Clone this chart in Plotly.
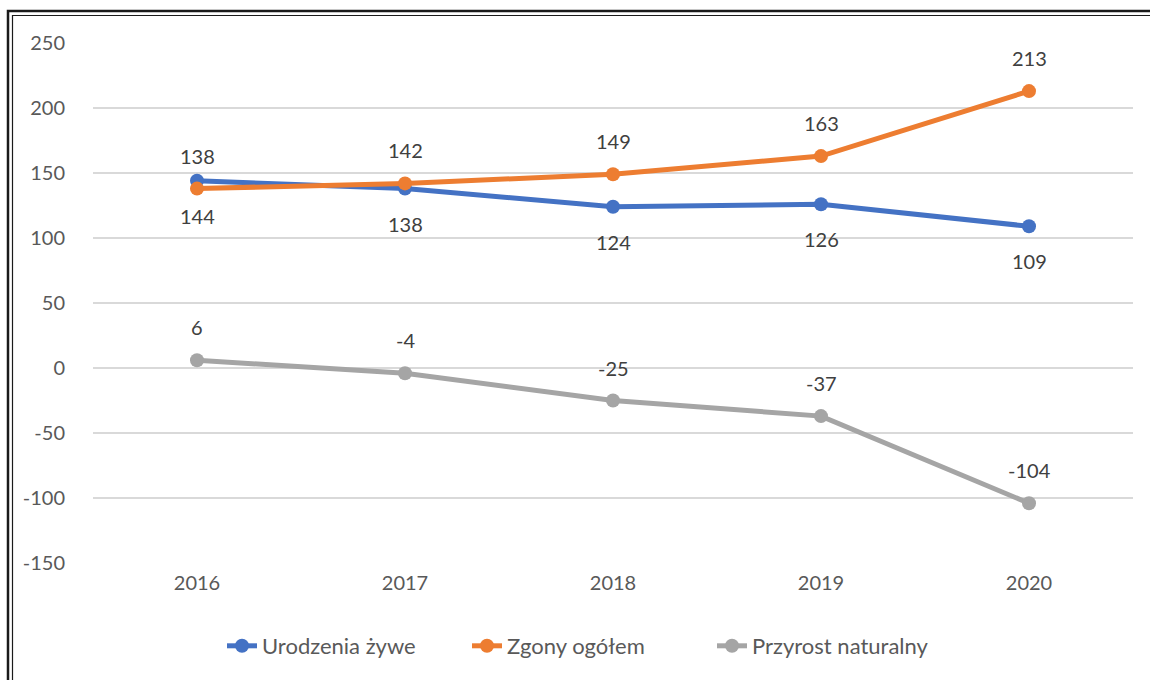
import plotly.graph_objects as go

years = ["2016", "2017", "2018", "2019", "2020"]
urodzenia = [144, 138, 124, 126, 109]
zgony = [138, 142, 149, 163, 213]
przyrost = [6, -4, -25, -37, -104]
series_names = ["Urodzenia żywe", "Zgony ogółem", "Przyrost naturalny"]
colors = ["#4472C4", "#ED7D31", "#A5A5A5"]
label_shift = [-35, 33, 33]
y_ticks = [-150, -100, -50, 0, 50, 100, 150, 200, 250]
y_tick_text = ["-150", "-100", "-50", "0", "50", "100", "150", "200", "250"]

W, H = 1150, 680
L, R, T, B = 93, 17, 43, 117
pw, ph = W - L - R, H - T - B
FONT = "Lato, Carlito, sans-serif"

fig = go.Figure()
xs = list(range(len(years)))
for name, vals, col in zip(series_names, [urodzenia, zgony, przyrost], colors):
    fig.add_trace(go.Scatter(
        x=xs, y=vals, name=name, mode="lines+markers",
        line=dict(color=col, width=5),
        marker=dict(color=col, size=14),
    ))

annotations = []
for vals, sh in zip([urodzenia, zgony, przyrost], label_shift):
    for xi, v in zip(xs, vals):
        annotations.append(dict(
            x=xi, y=v, xref="x", yref="y", text=str(v), showarrow=False,
            yshift=sh, font=dict(family=FONT, size=20, color="#404040"),
        ))

def px2paper_x(p):
    return (p - L) / pw

def px2paper_y(p):
    return (H - B - p) / ph

shapes = [
    dict(type="rect", xref="paper", yref="paper",
         x0=px2paper_x(8), x1=px2paper_x(1165), y0=px2paper_y(11), y1=px2paper_y(700),
         line=dict(color="#1a1a1a", width=2.5), layer="above"),
    dict(type="rect", xref="paper", yref="paper",
         x0=px2paper_x(12.5), x1=px2paper_x(1165), y0=px2paper_y(15.5), y1=px2paper_y(700),
         line=dict(color="#1a1a1a", width=1.2), layer="above"),
]

fig.update_layout(
    width=W, height=H,
    margin=dict(l=L, r=R, t=T, b=B, autoexpand=False),
    paper_bgcolor="white", plot_bgcolor="white",
    font=dict(family=FONT, size=20, color="#595959"),
    xaxis=dict(range=[-0.5, len(years) - 0.5], tickvals=xs, ticktext=years,
               showgrid=False, zeroline=False, showline=False, ticks="",
               ticklabelstandoff=6,
               tickfont=dict(family=FONT, size=20, color="#595959"), fixedrange=True),
    yaxis=dict(range=[-150, 250], tickvals=y_ticks, ticktext=y_tick_text, showgrid=True,
               gridcolor="#D9D9D9", gridwidth=1.5, zeroline=False, showline=False,
               ticks="", ticklabelstandoff=27,
               tickfont=dict(family=FONT, size=20, color="#595959"), fixedrange=True),
    legend=dict(orientation="h", x=px2paper_x(222), xanchor="left",
                y=px2paper_y(646), yanchor="middle",
                font=dict(family=FONT, size=22, color="#595959"),
                traceorder="normal", itemwidth=30,
                entrywidth=200, entrywidthmode="pixels"),
    annotations=annotations,
    shapes=shapes,
    showlegend=True,
)

fig.write_html(
    "out.html",
    config={"displayModeBar": False},
    post_script="document.body.style.margin='0';document.body.style.overflow='hidden';",
)
